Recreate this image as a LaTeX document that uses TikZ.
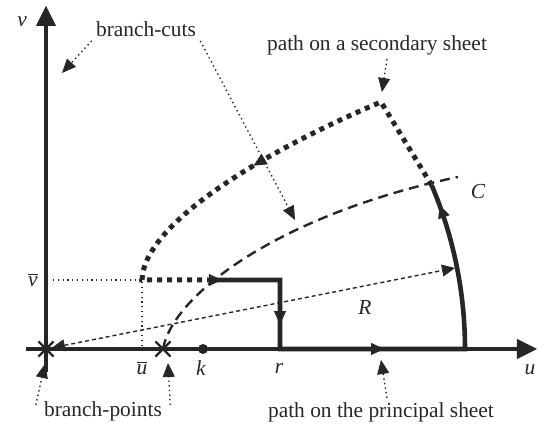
\documentclass[tikz,border=0pt]{standalone}
\usepackage{fontspec}
\setmainfont{Liberation Serif}
\usetikzlibrary{arrows.meta, decorations.markings, shapes.misc}
\colorlet{ink}{black!85}
\newcommand{\ubar}{\ensuremath{\overline{\mbox{\textit{u}}}}}
\newcommand{\vbar}{\ensuremath{\overline{\mbox{\textit{v}}}}}

\begin{document}
\begin{tikzpicture}[
  x=0.5pt, y=0.5pt,
  every node/.style = {font=\fontsize{10.7}{12.8}\selectfont, text=ink, inner sep=2pt},
  midhead/.tip      = {Triangle[length=6.5pt, width=6pt, line width=0.4pt]},
  pointhead/.tip    = {Triangle[length=7pt, width=6pt, line width=0.4pt]},
  axis/.style       = {draw=ink, line width=1.6pt,
                       -{Triangle[length=10pt, width=10pt, line width=0.4pt]}},
  mainpath/.style   = {draw=ink, line width=2.3pt},
  secpath/.style    = {draw=ink, line width=2.5pt, dash pattern=on 2.5pt off 2.5pt},
  cut/.style        = {draw=ink, line width=1.2pt, dash pattern=on 5pt off 3pt},
  guide/.style      = {draw=ink, line width=0.6pt, dash pattern=on 0.6pt off 1.8pt},
  rline/.style      = {draw=ink, line width=0.7pt, dash pattern=on 2pt off 1.5pt,
                       {Triangle[length=6.5pt, width=6pt, line width=0.4pt]}-{Triangle[length=6.5pt, width=6pt, line width=0.4pt]}},
  pointer/.style    = {draw=ink, line width=0.7pt, dash pattern=on 0.7pt off 1.6pt, -pointhead},
  bpoint/.style     = {cross out, draw=ink, line width=1.1pt, minimum size=6.5pt, inner sep=0pt},
  dot/.style        = {circle, fill=ink, minimum size=5pt, inner sep=0pt},
]

  % ---------------------------------------------------------------- frame
  \useasboundingbox (-46,-88) rectangle (502,349);

  % ----------------------------------------------------------------- axes
  \coordinate (uaxL) at (-20,0);
  \coordinate (uaxR) at (491,0);
  \coordinate (vaxB) at (0,-23);
  \coordinate (vaxT) at (0,343);
  \draw[axis] (uaxL) -- (uaxR);
  \draw[axis] (vaxB) -- (vaxT);
  \node (ulab) at (484,-21) {\textit{u}};
  \node (vlab) at (-24,327) {\textit{v}};

  % ------------------------------------------------------ points on u-axis
  \node[bpoint] (O)  at (0,0)   {};
  \node[bpoint] (ub) at (117,0) {};
  \node[dot]    (k)  at (157,0) {};
  \node (ublab) at (96,-19)  {\ubar};
  \node (klab)  at (155,-19) {\textit{k}};
  \node (rlab)  at (233,-19) {\textit{r}};
  \node (vblab) at (-13,69)  {\vbar};

  % -------------------------------------------------------------- guides
  \coordinate (vbS) at (7,69);
  \coordinate (Q)   at (96,69);
  \coordinate (ubS) at (96,0);
  \draw[guide] (vbS) -- (Q) -- (ubS);

  % ---------------------------------------------------------- branch-cut
  \coordinate (Cend) at (412,172);
  \draw[cut] (ub.center) .. controls (127,55) and (235,135) .. (Cend);
  \node (Clab) at (432,157) {\textit{C}};

  % ---------------------------------------------------------- radius R
  \coordinate (Rtip) at (409,81);
  \draw[rline, shorten <=3pt] (O.center) -- (Rtip);
  \node (Rlab) at (319,41) {\textit{R}};

  % ------------------------------------------------------ principal path
  \coordinate (P0) at (162,69);
  \coordinate (P1) at (234,69);
  \coordinate (P2) at (234,0);
  \coordinate (P3) at (419,0);
  \draw[mainpath, postaction=decorate, decoration={markings,
        mark=at position 0.028 with {\arrow{midhead}},
        mark=at position 0.235 with {\arrow{midhead}},
        mark=at position 0.496 with {\arrow{midhead}},
        mark=at position 0.957 with {\arrow{midhead}}}]
    (P0) -- (P1) -- (P2) -- (P3) arc[start angle=0, end angle=23, radius=209.5pt]
    coordinate (P4);

  % ------------------------------------------------------ secondary path
  \coordinate (S1) at (335,247);
  \draw[secpath, postaction=decorate, decoration={markings,
        mark=at position 0.51 with {\arrow{midhead}}}]
    (P4) -- (S1) .. controls (235,205) and (98,130) .. (Q) -- (P0);

  % --------------------------------------------------------- annotations
  \node (bcuts) at (100,320) {branch-cuts};
  \coordinate (bcA) at (16,276);
  \coordinate (bcB) at (249,129);
  \draw[pointer] (bcuts.south west) -- (bcA);
  \draw[pointer] (bcuts.south east) -- (bcB);

  \node (secl) at (331,304) {path on a secondary sheet};
  \coordinate (secT) at (336,257);
  \draw[pointer] ([xshift=5pt]secl.south) -- (secT);

  \node (bpts) at (57,-62) {branch-points};
  \coordinate (bpA) at (-1,-15);
  \coordinate (bpB) at (122,-14);
  \draw[pointer] ([xshift=-2pt,yshift=3pt]bpts.west) -- (bpA);
  \draw[pointer] ([xshift=2pt,yshift=3pt]bpts.east) -- (bpB);

  \node (prin) at (335,-63) {path on the principal sheet};
  \coordinate (prinT) at (335,-11);
  \draw[pointer] ([xshift=3pt]prin.north) -- (prinT);

\end{tikzpicture}
\end{document}
